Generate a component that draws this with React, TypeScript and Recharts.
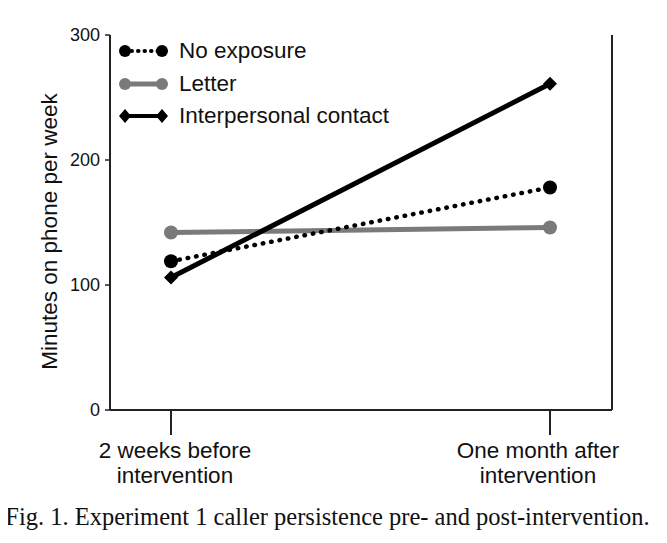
import React from 'react'
import {
  LineChart, Line, XAxis, YAxis, Legend
} from 'recharts'

const periods = ['2 weeks before\nintervention', 'One month after\nintervention']
const noExposure = [119, 178]
const letter = [142, 146]
const interpersonal = [106, 261]
const yTicks = [0, 100, 200, 300]

const data = periods.map((p, i) => ({
  period: p,
  noExposure: noExposure[i],
  letter: letter[i],
  interpersonal: interpersonal[i],
}))

const SANS = 'Liberation Sans, Arial, sans-serif'
const GRAY = '#7a7a7a'
// labels in the original sit a little off their tick marks
const tickShift = [4, -12]

const PeriodTick = (props: any) => {
  const { x, y, payload, index } = props
  const lines = String(payload.value).split('\n')
  const cx = x + (tickShift[index] ?? 0)
  return (
    <text x={cx} y={y} textAnchor="middle" fontSize={22.5} fill="#111" fontFamily={SANS}>
      {lines.map((l, i) => (
        <tspan key={i} x={cx} dy={i === 0 ? 21 : 25}>{l}</tspan>
      ))}
    </text>
  )
}

const Diamond = (props: any) => {
  const { cx, cy } = props
  if (cx == null || cy == null) return null
  const s = 7
  return (
    <polygon
      points={`${cx},${cy - s} ${cx + s},${cy} ${cx},${cy + s} ${cx - s},${cy}`}
      fill="#000"
    />
  )
}

const legendRows = [
  { name: 'No exposure', color: '#000', dash: '0.5 6', marker: 'circle', w: 4 },
  { name: 'Letter', color: GRAY, dash: undefined, marker: 'circle', w: 5 },
  { name: 'Interpersonal contact', color: '#000', dash: undefined, marker: 'diamond', w: 4 },
]

const LegendBox = () => (
  <div style={{ fontFamily: SANS, fontSize: 22.5, color: '#111' }}>
    {legendRows.map((r) => (
      <div key={r.name} style={{ display: 'flex', alignItems: 'center', height: 32.5 }}>
        <svg width={56} height={18} style={{ marginRight: 9 }}>
          <line x1={11} y1={9} x2={48} y2={9} stroke={r.color} strokeWidth={r.w}
            strokeDasharray={r.dash} strokeLinecap={r.dash ? 'round' : 'butt'} />
          {r.marker === 'circle' ? (
            <>
              <circle cx={11} cy={9} r={6} fill={r.color} />
              <circle cx={48} cy={9} r={6} fill={r.color} />
            </>
          ) : (
            <>
              <polygon points="11,2 17,9 11,16 5,9" fill={r.color} />
              <polygon points="48,2 54,9 48,16 42,9" fill={r.color} />
            </>
          )}
        </svg>
        <span>{r.name}</span>
      </div>
    ))}
  </div>
)

export default function App() {
  return (
    <div style={{ position: 'relative', width: 667, height: 543, margin: -8, background: '#fff' }}>
      <LineChart
        width={667}
        height={500}
        data={data}
        margin={{ top: 35, right: 54, bottom: 10, left: 0 }}
      >
        <XAxis
          dataKey="period"
          xAxisId="bottom"
          padding={{ left: 61, right: 62 }}
          height={80}
          tickSize={25}
          tickLine={{ stroke: '#222', strokeWidth: 2 }}
          axisLine={{ stroke: '#222', strokeWidth: 2 }}
          tick={<PeriodTick />}
          interval={0}
        />
        <XAxis
          dataKey="period"
          xAxisId="top"
          orientation="top"
          height={0}
          tick={false}
          tickLine={false}
          axisLine={{ stroke: '#222', strokeWidth: 2 }}
        />
        <YAxis
          yAxisId="left"
          domain={[0, 300]}
          ticks={yTicks}
          width={110}
          tickSize={5}
          tickMargin={5}
          tick={{ fontSize: 18, fill: '#111', fontFamily: SANS }}
          tickLine={{ stroke: '#222', strokeWidth: 1.5 }}
          axisLine={{ stroke: '#222', strokeWidth: 2 }}
          label={{
            value: 'Minutes on phone per week',
            angle: -90,
            position: 'center',
            dx: -6,
            dy: 9,
            style: { fontSize: 22.5, fill: '#111', fontFamily: SANS, textAnchor: 'middle' },
          }}
        />
        <YAxis
          yAxisId="right"
          orientation="right"
          domain={[0, 300]}
          width={1}
          tick={false}
          tickLine={false}
          axisLine={{ stroke: '#222', strokeWidth: 2 }}
        />
        <Legend
          layout="horizontal"
          verticalAlign="middle"
          align="center"
          content={() => <LegendBox />}
          wrapperStyle={{ position: 'absolute', left: 114, top: 35, width: 'auto', height: 'auto' }}
        />
        <Line
          xAxisId="bottom"
          yAxisId="left"
          dataKey="letter"
          name="Letter"
          stroke={GRAY}
          strokeWidth={5}
          dot={{ r: 7, fill: GRAY, stroke: GRAY, strokeWidth: 0 }}
          isAnimationActive={false}
        />
        <Line
          xAxisId="bottom"
          yAxisId="left"
          dataKey="noExposure"
          name="No exposure"
          stroke="#000"
          strokeWidth={4.5}
          strokeDasharray="0.5 8"
          strokeLinecap="round"
          dot={{ r: 7, fill: '#000', stroke: '#000', strokeWidth: 0 }}
          isAnimationActive={false}
        />
        <Line
          xAxisId="bottom"
          yAxisId="left"
          dataKey="interpersonal"
          name="Interpersonal contact"
          stroke="#000"
          strokeWidth={5}
          dot={<Diamond />}
          isAnimationActive={false}
        />
      </LineChart>
      <div
        style={{
          position: 'absolute',
          left: 0,
          width: 655,
          top: 503,
          textAlign: 'center',
          fontFamily: 'Liberation Serif, Times New Roman, serif',
          fontSize: 24.5,
          color: '#111',
          whiteSpace: 'nowrap',
        }}
      >
        Fig. 1. Experiment 1 caller persistence pre- and post-intervention.
      </div>
    </div>
  )
}
